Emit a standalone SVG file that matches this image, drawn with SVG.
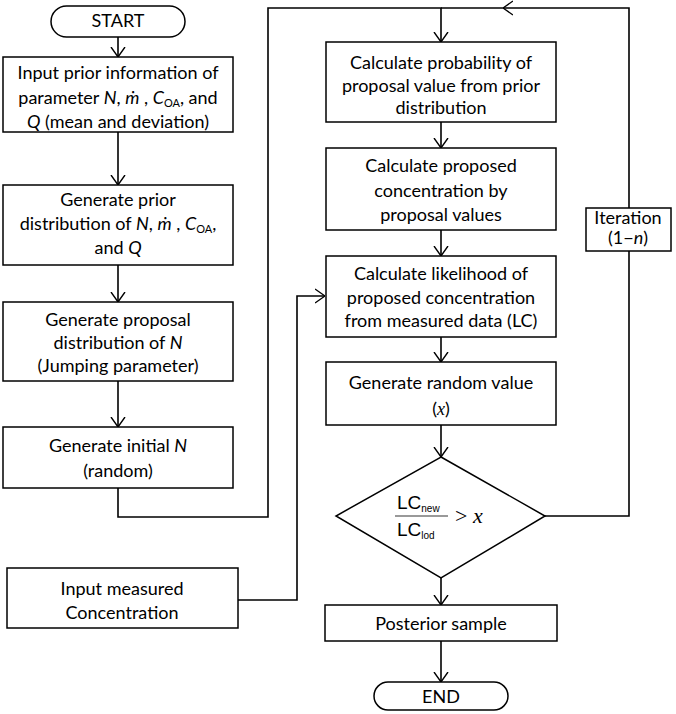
<svg xmlns="http://www.w3.org/2000/svg" width="676" height="714" viewBox="0 0 676 714">
<style>
.box{fill:#fff;stroke:#000;stroke-width:1.5}
.ln{fill:none;stroke:#000;stroke-width:1.6}
text{font-family:Lato,"Open Sans",sans-serif;font-size:18px;fill:#000;text-anchor:middle}
.i{font-style:italic}
.sub{font-size:11px}
.m{font-family:"Liberation Serif",serif;font-style:italic}
.ar{font-family:"Liberation Sans",Arial,sans-serif}
</style>
<defs>
<marker id="arr" viewBox="0 0 10 16" refX="10" refY="8" markerWidth="10" markerHeight="16" markerUnits="userSpaceOnUse" orient="auto">
<path d="M0,1 L10,8 L0,15" fill="none" stroke="#000" stroke-width="1.4"/>
</marker>
</defs>
<rect width="676" height="714" fill="#fff"/>
<g id="connectors">
<path class="ln" d="M118,37 V57" marker-end="url(#arr)"/>
<path class="ln" d="M118,132 V185" marker-end="url(#arr)"/>
<path class="ln" d="M118,265 V302" marker-end="url(#arr)"/>
<path class="ln" d="M118,381 V427" marker-end="url(#arr)"/>
<path class="ln" d="M118,488 V517 H268 V8 H441 V42" marker-end="url(#arr)"/>
<path class="ln" d="M238,600 H297 V296 H325" marker-end="url(#arr)"/>
<path class="ln" d="M441,122 V148" marker-end="url(#arr)"/>
<path class="ln" d="M441,230 V256" marker-end="url(#arr)"/>
<path class="ln" d="M441,337 V362" marker-end="url(#arr)"/>
<path class="ln" d="M441,425 V457" marker-end="url(#arr)"/>
<path class="ln" d="M441,578 V605" marker-end="url(#arr)"/>
<path class="ln" d="M441,641 V682" marker-end="url(#arr)"/>
<path class="ln" d="M545,516 H629 V251"/>
<path class="ln" d="M629,208 V8 H503" marker-end="url(#arr)"/>
<path class="ln" d="M503,8 H441"/>
</g>
<g id="start">
<rect class="box" x="51" y="6" width="134" height="31" rx="15.5"/>
<text x="118" y="27">START</text>
</g>
<g id="input-prior">
<rect class="box" x="3" y="57" width="230" height="75"/>
<text x="118" y="79">Input prior information of</text>
<text x="118" y="104">parameter <tspan class="i">N</tspan>, <tspan class="i">ṁ</tspan> , <tspan class="i">C</tspan><tspan class="sub" dy="3">OA</tspan><tspan dy="-3">, and</tspan></text>
<text x="118" y="128"><tspan class="i">Q</tspan> (mean and deviation)</text>
</g>
<g id="gen-prior">
<rect class="box" x="3" y="185" width="230" height="80"/>
<text x="118" y="206">Generate prior</text>
<text x="118" y="230">distribution of <tspan class="i">N</tspan>, <tspan class="i">ṁ</tspan> , <tspan class="i">C</tspan><tspan class="sub" dy="3">OA</tspan><tspan dy="-3">,</tspan></text>
<text x="118" y="254">and <tspan class="i">Q</tspan></text>
</g>
<g id="gen-proposal">
<rect class="box" x="3" y="302" width="230" height="79"/>
<text x="118" y="326">Generate proposal</text>
<text x="118" y="349">distribution of <tspan class="i">N</tspan></text>
<text x="118" y="372">(Jumping parameter)</text>
</g>
<g id="gen-initial">
<rect class="box" x="3" y="427" width="230" height="61"/>
<text x="118" y="452">Generate initial <tspan class="i">N</tspan></text>
<text x="118" y="477">(random)</text>
</g>
<g id="input-measured">
<rect class="box" x="7" y="568" width="231" height="60"/>
<text x="122" y="595">Input measured</text>
<text x="122" y="619">Concentration</text>
</g>
<g id="calc-prob">
<rect class="box" x="326" y="42" width="230" height="80"/>
<text x="441" y="69">Calculate probability of</text>
<text x="441" y="92">proposal value from prior</text>
<text x="441" y="114">distribution</text>
</g>
<g id="calc-conc">
<rect class="box" x="326" y="148" width="230" height="82"/>
<text x="441" y="172">Calculate proposed</text>
<text x="441" y="197">concentration by</text>
<text x="441" y="221">proposal values</text>
</g>
<g id="calc-lik">
<rect class="box" x="326" y="256" width="230" height="81"/>
<text x="441" y="280">Calculate likelihood of</text>
<text x="441" y="304">proposed concentration</text>
<text x="441" y="327">from measured data (LC)</text>
</g>
<g id="gen-random">
<rect class="box" x="326" y="362" width="230" height="63"/>
<text x="441" y="389">Generate random value</text>
<text x="441" y="415">(<tspan class="m">x</tspan>)</text>
</g>
<g id="decision">
<polygon class="box" points="441,457 545,516 441,578 336,516"/>
<text class="ar" x="397" y="509" style="text-anchor:start;font-size:19px">LC<tspan style="font-size:10px" dy="3">new</tspan></text>
<line x1="395" y1="516" x2="448" y2="516" stroke="#777" stroke-width="1.5"/>
<text class="ar" x="397" y="536" style="text-anchor:start;font-size:19px">LC<tspan style="font-size:10px" dy="3">lod</tspan></text>
<text x="455" y="523" style="text-anchor:start;font-family:'Liberation Serif',serif;font-size:22px">&gt; <tspan font-style="italic">x</tspan></text>
</g>
<g id="iteration">
<rect class="box" x="586" y="208" width="85" height="43"/>
<text x="628" y="224">Iteration</text>
<text x="628" y="244">(1−<tspan class="i">n</tspan>)</text>
</g>
<g id="posterior">
<rect class="box" x="325" y="605" width="232" height="36"/>
<text x="441" y="630">Posterior sample</text>
</g>
<g id="end">
<rect class="box" x="374" y="682" width="134" height="28" rx="14"/>
<text x="441" y="703">END</text>
</g>
</svg>
